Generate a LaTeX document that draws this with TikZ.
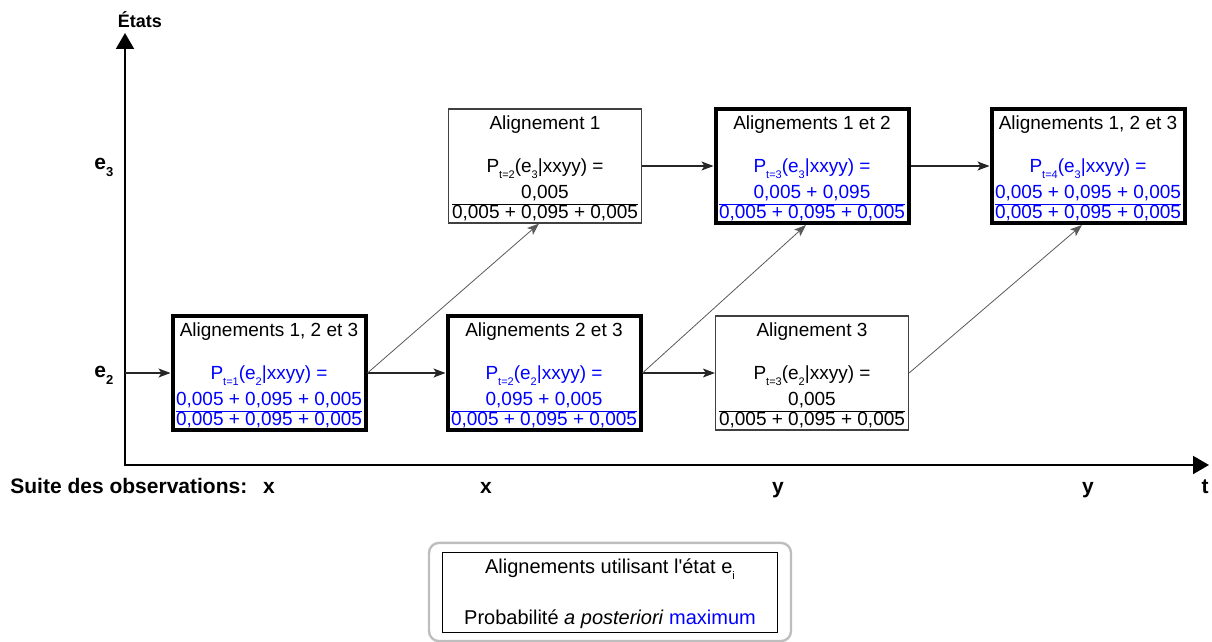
\documentclass[tikz,border=0pt]{standalone}
\usepackage{fontspec}
\setmainfont{Liberation Sans}
\usetikzlibrary{calc,positioning,fit,arrows,arrows.meta}
\usepackage{color}

\renewcommand{\arraystretch}{0.9}
\newcommand{\lo}[1]{\raisebox{-0.55ex}{\fontsize{5.5}{6}\selectfont #1}}
\newcommand{\frc}[2]{\begin{tabular}[t]{@{}c@{}}#1\\\hline #2\end{tabular}}
\definecolor{cadregris}{RGB}{190,190,190}

\tikzset{
  etat/.style={rectangle, draw=black!75, line width=0.6pt, minimum width=96.5pt,
    minimum height=57pt, inner sep=1pt, align=center,
    font=\fontsize{9.5}{10.5}\selectfont},
  etatmax/.style={etat, draw=black, line width=2pt},
  trans/.style={draw=black!85, line width=0.55pt,
    -{Stealth[length=6pt,width=4.5pt,inset=1.5pt]}},
  diag/.style={trans, draw=black!65, line width=0.4pt},
  axe/.style={line width=1pt, {Triangle[length=8pt,width=9pt]}-{Triangle[length=8pt,width=9pt]}},
  lab/.style={font=\bfseries\fontsize{10.5}{12}\selectfont, inner sep=0pt},
}

\begin{document}
\begin{tikzpicture}[x=0.5pt,y=-0.5pt]
  \useasboundingbox (0,0) rectangle (1212,642);

  % axes
  \coordinate (haut) at (125,33);
  \coordinate (origine) at (125,465);
  \coordinate (fin) at (1209,465);
  \draw [axe] (haut) -- (origine) -- (fin);

  \node [lab, anchor=base, font=\bfseries\fontsize{9}{11}\selectfont] (etats) at (140,28) {États};
  \node [lab, anchor=base west, font=\bfseries\fontsize{10.5}{12}\selectfont] (le3) at (94,170) {e\lo{\fontsize{6.5}{7}\selectfont 3}};
  \node [lab, anchor=base west, font=\bfseries\fontsize{10.5}{12}\selectfont] (le2) at (94,378) {e\lo{\fontsize{6.5}{7}\selectfont 2}};

  % observations
  \node [lab, anchor=base west] (suite) at (10,493) {Suite des observations:};
  \foreach \o/\x in {x/269, x/486, y/778, y/1088, t/1205}
    \node [lab, anchor=base] (obs\x) at (\x,493) {\o};

  % etat e2
  \node [etatmax] (e2t1) at (269,373) {Alignements 1, 2 et 3\\[11pt]\color{blue}P\lo{t=1}(e\lo{2}|xxyy) =\\[2.5pt]\color{blue}\frc{0,005 + 0,095 + 0,005}{0,005 + 0,095 + 0,005}\\[-5pt]\mbox{}};
  \node [etatmax] (e2t2) at (544,373) {Alignements 2 et 3\\[11pt]\color{blue}P\lo{t=2}(e\lo{2}|xxyy) =\\[2.5pt]\color{blue}\frc{0,095 + 0,005}{0,005 + 0,095 + 0,005}\\[-5pt]\mbox{}};
  \node [etat] (e2t3) at (812,373) {Alignement 3\\[11pt]P\lo{t=3}(e\lo{2}|xxyy) =\\[2.5pt]\frc{0,005}{0,005 + 0,095 + 0,005}\\[-5pt]\mbox{}};

  % etat e3
  \node [etat] (e3t2) at (545,166) {Alignement 1\\[11pt]P\lo{t=2}(e\lo{3}|xxyy) =\\[2.5pt]\frc{0,005}{0,005 + 0,095 + 0,005}\\[-5pt]\mbox{}};
  \node [etatmax] (e3t3) at (812,166) {Alignements 1 et 2\\[11pt]\color{blue}P\lo{t=3}(e\lo{3}|xxyy) =\\[2.5pt]\color{blue}\frc{0,005 + 0,095}{0,005 + 0,095 + 0,005}\\[-5pt]\mbox{}};
  \node [etatmax] (e3t4) at (1088,166) {Alignements 1, 2 et 3\\[11pt]\color{blue}P\lo{t=4}(e\lo{3}|xxyy) =\\[2.5pt]\color{blue}\frc{0,005 + 0,095 + 0,005}{0,005 + 0,095 + 0,005}\\[-5pt]\mbox{}};

  % transitions
  \coordinate (entree) at (125,373);
  \draw [trans] (entree) -- (e2t1);
  \foreach \a/\b in {e2t1/e2t2, e2t2/e2t3, e3t2/e3t3, e3t3/e3t4}
    \draw [trans] (\a) -- (\b);
  \foreach \a/\b in {e2t1/e3t2, e2t2/e3t3, e2t3/e3t4}
    \draw [diag] (\a.east) -- ([xshift=-3pt]\b.south);

  % legende
  \node [rectangle, draw=black, line width=0.5pt, minimum width=167.5pt, minimum height=40pt,
         align=center, inner sep=1pt, font=\fontsize{10}{11}\selectfont] (leg) at (610,592)
    {\rule{0pt}{9pt}Alignements utilisant l\textquotesingle état e\lo{i}\\[14.5pt]Probabilité \textit{a posteriori} \textcolor{blue}{maximum}};
  \node [draw=cadregris, line width=1.2pt, rounded corners=5pt, fit=(leg),
         inner xsep=6.5pt, inner ysep=4.3pt] (legcadre) {};

\end{tikzpicture}
\end{document}
